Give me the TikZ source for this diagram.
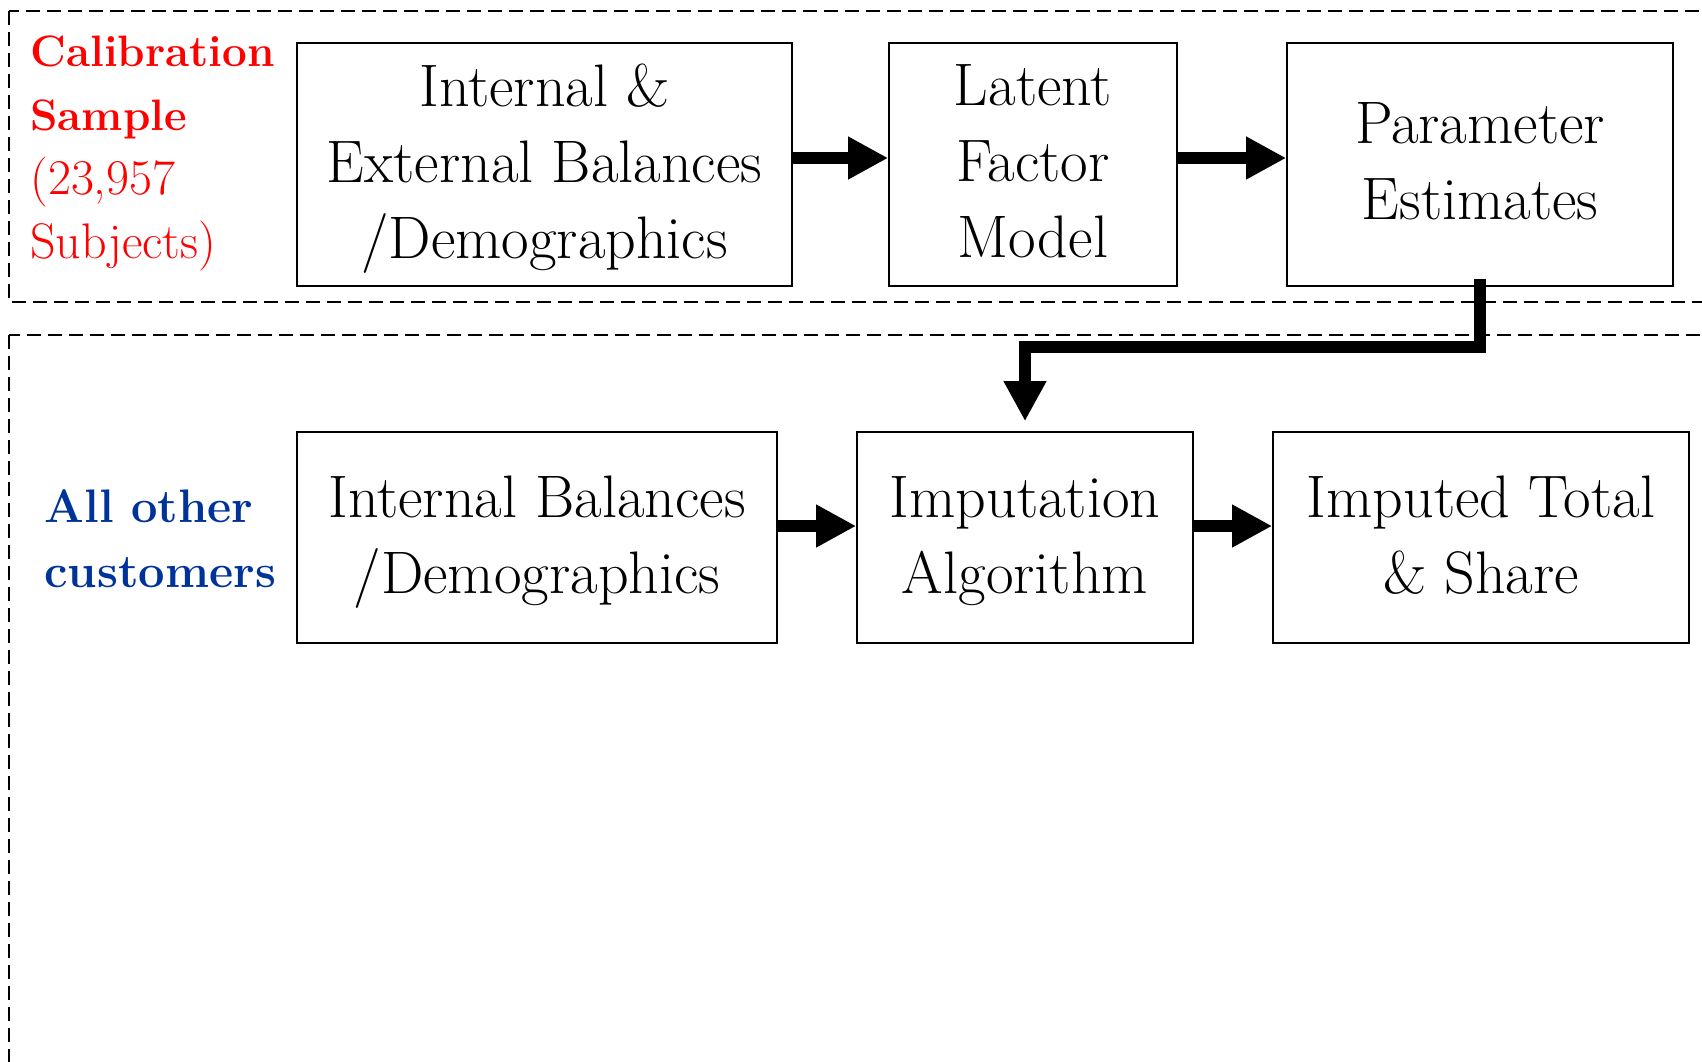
\documentclass[tikz,border=0pt]{standalone}
\usetikzlibrary{arrows.meta}
\definecolor{calred}{RGB}{255,0,0}
\definecolor{custblue}{RGB}{0,51,153}

\begin{document}
\begin{tikzpicture}[x=0.5pt, y=-0.5pt,
  stepbox/.style={draw, line width=0.8pt, align=center, inner sep=0pt,
    text depth=3pt, font=\fontsize{30}{38}\selectfont},
  fatarrow/.style={line width=6pt, line join=miter,
    -{Triangle[length=20pt, width=20pt]}},
  region/.style={dash pattern=on 7pt off 3.5pt, line width=0.8pt},
  grouplabel/.style={anchor=west, align=left, inner sep=0pt,
    font=\fontsize{22}{32}\selectfont}]
  \useasboundingbox (0,0) rectangle (1702,1061);
  \clip (0,0) rectangle (1702,1061);

  % dashed regions, cut by the page edge
  \draw[region] (9,11) rectangle (1760,302);
  \draw[region] (9,335) rectangle (1760,1120);

  % calibration row
  \node[stepbox, minimum width=247.5pt, minimum height=121.5pt] (ext) at (544.5,164.5)
    {Internal \&\\External Balances\\/Demographics};
  \node[stepbox, minimum width=144pt, minimum height=121.5pt] (lat) at (1033,164.5)
    {Latent\\Factor\\Model};
  \node[stepbox, minimum width=193pt, minimum height=121.5pt] (par) at (1480,164.5)
    {Parameter\\Estimates};

  % imputation row
  \node[stepbox, minimum width=240pt, minimum height=105.5pt] (int) at (537,537.5)
    {Internal Balances\\/Demographics};
  \node[stepbox, minimum width=168pt, minimum height=105.5pt] (imp) at (1025,537.5)
    {Imputation\\Algorithm};
  \node[stepbox, minimum width=208pt, minimum height=105.5pt] (tot) at (1481,537.5)
    {Imputed Total\\\& Share};

  % group labels
  \node[grouplabel, text=calred] (cal) at (30,153)
    {\textbf{Calibration}\\\textbf{Sample}\\{\fontsize{25}{32}\selectfont(23,957}\\
     {\fontsize{25}{32}\selectfont Subjects)}};
  \node[grouplabel, text=custblue, font=\fontsize{23.5}{32.5}\selectfont] (oth) at (44,538.5)
    {\textbf{All other}\\\textbf{customers}};

  \draw[fatarrow] ([yshift=3.25pt]ext.east) -- ([yshift=3.25pt]lat.west);
  \draw[fatarrow] ([yshift=3.25pt]lat.east) -- ([yshift=3.25pt]par.west);
  \draw[fatarrow] ([yshift=4pt]par.south) -- ++(0,68) -| ([yshift=5pt]imp.north);
  \draw[fatarrow] ([yshift=5.75pt]int.east) -- ([yshift=5.75pt]imp.west);
  \draw[fatarrow] ([yshift=5.75pt]imp.east) -- ([yshift=5.75pt]tot.west);
\end{tikzpicture}
\end{document}
